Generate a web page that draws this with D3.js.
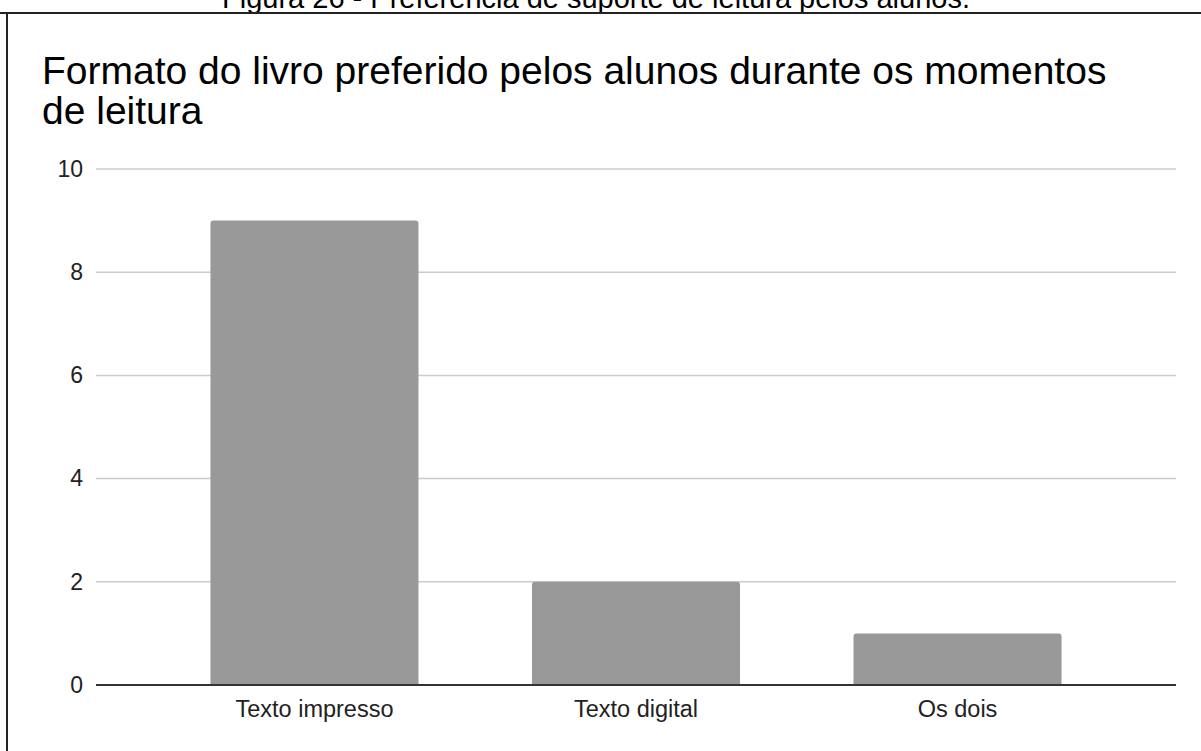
<!DOCTYPE html>
<html>
<head>
<meta charset="utf-8">
<script src="https://cdn.jsdelivr.net/npm/d3@7"></script>
<style>
  body { margin: 0; background: #fff; }
  svg { display: block; font-family: Arial, "Liberation Sans", sans-serif; }
</style>
</head>
<body>
<svg width="1201" height="751"></svg>
<script>
// data
let categories = ["Texto impresso", "Texto digital", "Os dois"]
let values = [9, 2, 1]
let yTicks = [0, 2, 4, 6, 8, 10]
let caption = "Figura 26 - Preferência de suporte de leitura pelos alunos."
let titleLines = ["Formato do livro preferido pelos alunos durante os momentos", "de leitura"]

let svg = d3.select("svg")

// caption, cut at the top of the page
svg.append("text")
  .attr("x", 596)
  .attr("y", 8)
  .attr("text-anchor", "middle")
  .attr("font-size", 29)
  .attr("fill", "#000")
  .text(caption)

// frame
svg.append("line")
  .attr("x1", 0).attr("x2", 1201)
  .attr("y1", 13).attr("y2", 13)
  .attr("stroke", "#222").attr("stroke-width", 2)
svg.append("line")
  .attr("x1", 7).attr("x2", 7)
  .attr("y1", 13).attr("y2", 751)
  .attr("stroke", "#222").attr("stroke-width", 2)

// title
svg.append("text")
  .attr("font-size", 39)
  .attr("fill", "#000")
  .selectAll("tspan")
  .data(titleLines).enter()
    .append("tspan")
      .attr("x", 42)
      .attr("y", function(d, i){ return 84 + i*40 })
      .text(function(d){ return d })

let x = d3.scaleBand()
  .domain(categories)
  .range([96, 1176])
  .paddingInner(0.353)
  .paddingOuter(0.356)

let y = d3.scaleLinear()
  .domain([0, 10])
  .range([685, 169])

// grid
svg.append("g")
  .selectAll("line")
  .data(yTicks.filter(function(d){ return d > 0 })).enter()
    .append("line")
      .attr("x1", 96).attr("x2", 1176)
      .attr("y1", function(d){ return y(d) })
      .attr("y2", function(d){ return y(d) })
      .attr("stroke", "#cccccc")
      .attr("stroke-width", 1.5)

// y tick labels
let yAxis = svg.append("g")
  .attr("transform", "translate(96,0)")
  .call(d3.axisLeft(y).tickValues(yTicks).tickSize(0).tickPadding(13))
yAxis.select(".domain").remove()
yAxis.selectAll("text")
  .attr("font-size", 23)
  .attr("font-family", "Arial, 'Liberation Sans', sans-serif")
  .attr("fill", "#222")

// bars, rounded top corners
let r = 3
svg.append("g")
  .selectAll("path")
  .data(values).enter()
    .append("path")
      .attr("fill", "#999999")
      .attr("d", function(d, i){
        let x0 = x(categories[i]), w = x.bandwidth()
        let y0 = y(d), y1 = y(0)
        return "M" + x0 + "," + y1 +
          "V" + (y0 + r) +
          "Q" + x0 + "," + y0 + " " + (x0 + r) + "," + y0 +
          "H" + (x0 + w - r) +
          "Q" + (x0 + w) + "," + y0 + " " + (x0 + w) + "," + (y0 + r) +
          "V" + y1 + "Z"
      })

// baseline
svg.append("line")
  .attr("x1", 96).attr("x2", 1176)
  .attr("y1", y(0)).attr("y2", y(0))
  .attr("stroke", "#333")
  .attr("stroke-width", 2)

// x labels
let xAxis = svg.append("g")
  .attr("transform", "translate(0," + y(0) + ")")
  .call(d3.axisBottom(x).tickSize(0).tickPadding(15))
xAxis.select(".domain").remove()
xAxis.selectAll("text")
  .attr("font-size", 23.5)
  .attr("font-family", "Arial, 'Liberation Sans', sans-serif")
  .attr("fill", "#222")
</script>
</body>
</html>
